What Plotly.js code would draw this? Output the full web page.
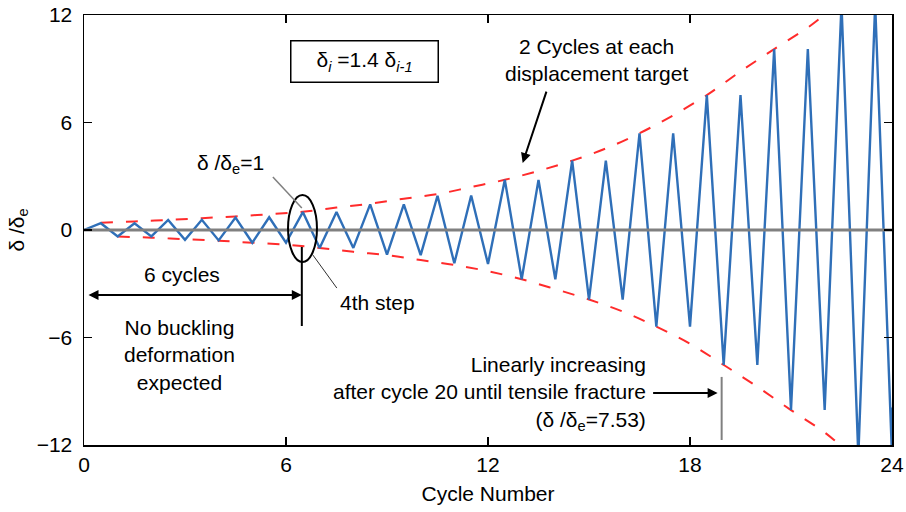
<!DOCTYPE html>
<html>
<head>
<meta charset="utf-8">
<script src="https://cdn.plot.ly/plotly-3.0.1.min.js"></script>
<style>html,body{margin:0;padding:0;background:#fff;}#chart{width:906px;height:512px;}</style>
</head>
<body>
<div id="chart"></div>
<script>
// ---- data ----
const peakX = [0.5,1.5,2.5,3.5,4.5,5.5,6.5,7.5,8.5,9.5,10.5,11.5,12.5,13.5,14.5,15.5,16.5,17.5,18.5,19.5,20.5,21.5,22.5,23.5];
const peakValues = [0.38,0.38,0.56,0.57,0.69,0.71,1.0,1.0,1.43,1.43,1.91,1.93,2.8,2.8,3.87,3.87,5.4,5.4,7.53,7.53,10.1,10.1,12.6,12.6];
const troughX = [1,2,3,4,5,6,7,8,9,10,11,12,13,14,15,16,17,18,19,20,21,22,23,24];
const troughValues = [-0.36,-0.36,-0.55,-0.58,-0.71,-0.71,-1.0,-1.0,-1.38,-1.4,-1.86,-1.9,-2.75,-2.75,-3.88,-3.88,-5.39,-5.39,-7.53,-7.53,-10.05,-10.05,-12.6,-12.6];
const startPoint = [0, 0];
const fracturePoint = [24, -9.9];

const upperEnvX = [0.5,1.5,2.5,3.5,4.5,5.5,6.5,7.5,8.5,9.5,10.5,11.5,12.5,13.5,14.5,15.5,16.5,17.5,18.5,19.5,20.5,21.5,22.0,22.5];
const upperEnvY = [0.40,0.48,0.56,0.66,0.76,0.88,1.02,1.25,1.47,1.75,2.0,2.4,2.8,3.3,3.87,4.55,5.4,6.4,7.53,8.85,10.1,11.3,12.0,12.6];
const lowerEnvX = [1,2,3,4,5,6,7,8,9,10,11,12,13,14,15,16,17,18,19,20,21,22,22.5,23];
const lowerEnvY = [-0.36,-0.43,-0.51,-0.6,-0.71,-0.82,-1.0,-1.22,-1.4,-1.68,-1.95,-2.3,-2.75,-3.3,-3.88,-4.55,-5.39,-6.35,-7.53,-8.75,-10.05,-11.3,-12.05,-12.7];

const zeroLineX = [0, 24];
const zeroLineY = [0, 0];

const xTicks = [0, 6, 12, 18, 24];
const yTicks = [-12, -6, 0, 6, 12];

// build the loading history line
const histX = [startPoint[0]];
const histY = [startPoint[1]];
for (let i = 0; i < peakX.length; i++) {
  histX.push(peakX[i]); histY.push(peakValues[i]);
  histX.push(troughX[i]); histY.push(troughValues[i]);
}
histX.push(fracturePoint[0]); histY.push(fracturePoint[1]);

const FONT = '"Liberation Sans", Arial, Helvetica, sans-serif';
const red = '#FF2B2B';

const traces = [
  {x: upperEnvX, y: upperEnvY, mode: 'lines', line: {color: red, width: 2, dash: '12px,13px', shape: 'spline'}, hoverinfo: 'skip'},
  {x: lowerEnvX, y: lowerEnvY, mode: 'lines', line: {color: red, width: 2, dash: '12px,13px', shape: 'spline'}, hoverinfo: 'skip'},
  {x: histX, y: histY, mode: 'lines', line: {color: '#2F6FB8', width: 2.4}},
  {x: zeroLineX, y: zeroLineY, mode: 'lines', line: {color: '#808080', width: 3}}
];

const axisCommon = {
  showgrid: false, zeroline: false, showline: true, linecolor: '#000', linewidth: 1.5,
  mirror: 'ticks', ticks: 'inside', ticklen: 8, tickwidth: 1.5, tickcolor: '#000',
  tickfont: {family: FONT, size: 21, color: '#000'}
};

const arrowText = {family: FONT, size: 21, color: '#000'};

const layout = {
  width: 906, height: 512,
  margin: {l: 84, r: 14, t: 15, b: 67},
  paper_bgcolor: '#fff', plot_bgcolor: '#fff',
  showlegend: false,
  font: {family: FONT, size: 21, color: '#000'},
  xaxis: Object.assign({}, axisCommon, {range: [0, 24], tickvals: xTicks, ticktext: xTicks.map(String),
    title: {text: 'Cycle Number', font: {family: FONT, size: 21}, standoff: 11}}),
  yaxis: Object.assign({}, axisCommon, {range: [-12, 12], tickvals: yTicks, ticklabelstandoff: 6,
    title: {text: 'δ /δ<sub>e</sub>', font: {family: FONT, size: 21}, standoff: 6}}),
  shapes: [
    {type: 'circle', xref: 'x', yref: 'y', x0: 6.06, x1: 6.92, y0: -1.79, y1: 1.95, line: {color: '#000', width: 2}},
    {type: 'line', xref: 'x', yref: 'y', x0: 5.61, y0: 2.96, x1: 6.47, y1: 1.23, line: {color: '#808080', width: 1.5}},
    {type: 'line', xref: 'x', yref: 'y', x0: 6.8, y0: -1.40, x1: 7.51, y1: -3.24, line: {color: '#303030', width: 1}},
    {type: 'line', xref: 'x', yref: 'y', x0: 6.47, y0: -0.95, x1: 6.47, y1: -5.36, line: {color: '#000', width: 2}},
    {type: 'line', xref: 'x', yref: 'y', x0: 18.94, y0: -8.2, x1: 18.94, y1: -11.72, line: {color: '#808080', width: 2}}
  ],
  annotations: [
    {xref: 'x', yref: 'y', x: 8.32, y: 9.40, showarrow: false,
     text: 'δ<sub><i>i</i></sub> =1.4 δ<sub><i>i-1</i></sub>', font: {family: FONT, size: 21},
     bordercolor: '#000', borderwidth: 1.5, borderpad: 2, width: 142, height: 36, bgcolor: '#fff'},
    {xref: 'x', yref: 'y', x: 15.22, y: 9.49, showarrow: false,
     text: '2 Cycles at each<br>displacement target', font: arrowText},
    {xref: 'x', yref: 'y', axref: 'x', ayref: 'y', x: 13.03, y: 3.74, ax: 13.75, ay: 7.81,
     text: '', showarrow: true, arrowhead: 2, arrowsize: 1, arrowwidth: 2, arrowcolor: '#000', standoff: 0},
    {xref: 'x', yref: 'y', x: 4.36, y: 3.7, showarrow: false,
     text: 'δ /δ<sub>e</sub>=1', font: arrowText},
    {xref: 'x', yref: 'y', x: 7.54, y: -4.02, xanchor: 'left', showarrow: false,
     text: '4th step', font: arrowText},
    {xref: 'x', yref: 'y', axref: 'x', ayref: 'y', x: 6.47, y: -3.63, ax: 0.09, ay: -3.63,
     text: '', showarrow: true, arrowhead: 2, arrowside: 'end+start', arrowsize: 1, arrowwidth: 2, arrowcolor: '#000', standoff: 0, startstandoff: 0},
    {xref: 'x', yref: 'y', x: 2.91, y: -2.46, showarrow: false,
     text: '6 cycles', font: arrowText},
    {xref: 'x', yref: 'y', x: 2.85, y: -6.95, showarrow: false,
     text: 'No buckling<br>deformation<br>expected', font: arrowText},
    {xref: 'x', yref: 'y', x: 16.75, y: -9.1, xanchor: 'right', align: 'right', showarrow: false,
     text: 'Linearly increasing<br>after cycle 20 until tensile fracture<br>(δ /δ<sub>e</sub>=7.53)', font: arrowText},
    {xref: 'x', yref: 'y', axref: 'x', ayref: 'y', x: 18.82, y: -9.1, ax: 16.86, ay: -9.1,
     text: '', showarrow: true, arrowhead: 2, arrowsize: 1, arrowwidth: 2, arrowcolor: '#000', standoff: 0}
  ]
};

Plotly.newPlot('chart', traces, layout, {staticPlot: true, displayModeBar: false});
</script>
</body>
</html>
